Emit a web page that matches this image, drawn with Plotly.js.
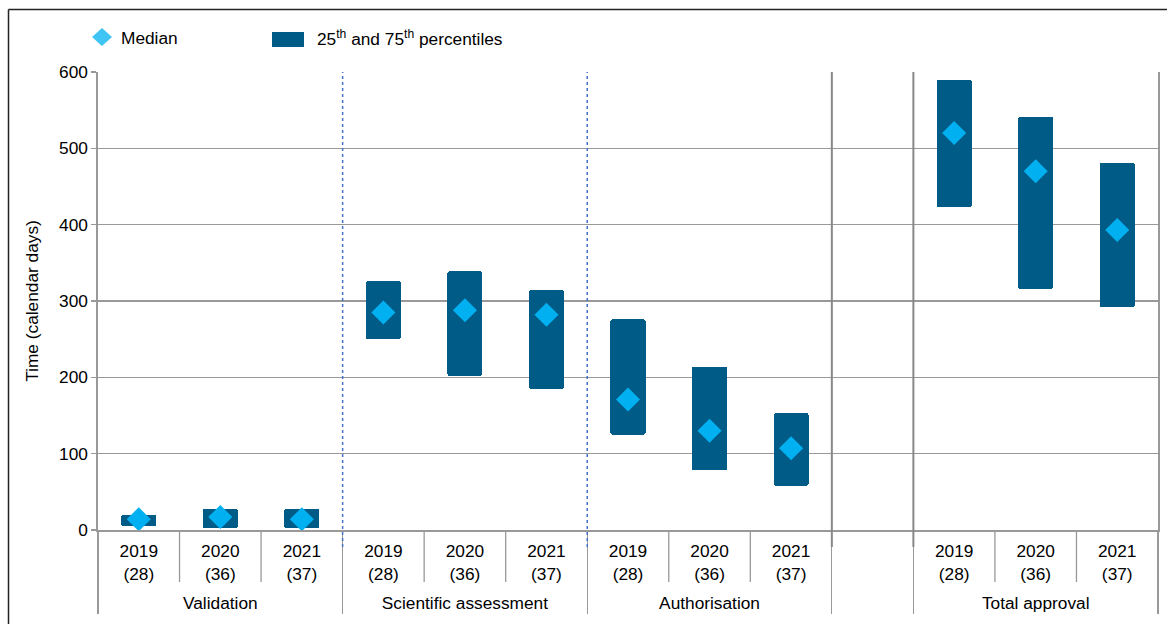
<!DOCTYPE html>
<html><head><meta charset="utf-8">
<script src="https://cdn.plot.ly/plotly-3.0.1.min.js"></script>
<style>html,body{margin:0;padding:0;background:#fff}#chart{width:1167px;height:624px}</style>
</head><body><div id="chart"></div>
<script>
// ---- data ----
const phases = ['Validation','Validation','Validation',
  'Scientific assessment','Scientific assessment','Scientific assessment',
  'Authorisation','Authorisation','Authorisation',
  ' ',
  'Total approval','Total approval','Total approval'];
const years = ['2019','2020','2021','2019','2020','2021','2019','2020','2021',' ','2019','2020','2021'];
const counts = ['(28)','(36)','(37)','(28)','(36)','(37)','(28)','(36)','(37)',' ','(28)','(36)','(37)'];
const p25 =    [5,   2,    2,    250, 202, 185, 125, 78,  58,  null, 423, 316, 292];
const p75 =    [20,  27.5, 27.5, 326, 339, 314, 276, 214, 153, null, 590, 541, 481];
const median = [14,  17,   14,   285, 288, 282, 171, 130, 107, null, 520, 470, 393];

// ---- style ----
const FONT = 'Liberation Sans, Arial, sans-serif';
const FS = 17.3;
const BAR = '#005b86';
const DIAM = '#00b0f0';
const GRID = '#999999';

const W = 1167, H = 624;
const M = {l: 98, r: 9, t: 72, b: 94};
const PW = W - M.l - M.r, PH = H - M.t - M.b;
const px = x => (x - M.l) / PW;          // pixel -> paper x
const py = y => (H - M.b - y) / PH;      // pixel -> paper y

// invisible tall spacer on the first line: only enlarges the label box so the phase row sits lower
const pad = '<span style="font-size:30.6px">\u00A0</span>';
const yearLabels = years.map((y, i) => y === ' ' ? ' ' : pad + y + pad + '<br>' + counts[i]);

const nCat = phases.length;
const span = p75.map((v, i) => (v === null ? null : v - p25[i]));

const traces = [
  {
    type: 'bar', x: [phases, yearLabels], y: span, base: p25,
    width: 0.43, marker: {color: BAR, line: {width: 0}, cornerradius: 2},
    showlegend: false, hoverinfo: 'skip'
  },
  {
    type: 'scatter', mode: 'markers', x: [phases, yearLabels], y: median,
    marker: {symbol: 'diamond', size: 18.5, color: DIAM, line: {width: 0}},
    showlegend: false, hoverinfo: 'skip', cliponaxis: false
  }
];

const vLine = (i, color, dash, width) => ({
  type: 'line', xref: 'paper', yref: 'paper',
  x0: i / nCat, x1: i / nCat, y0: py(547), y1: 1,
  line: {color: color, dash: dash, width: width}
});

const shapes = [
  vLine(3, '#4472c4', 'dot', 1.5),
  vLine(6, '#4472c4', 'dot', 1.5),
  vLine(9, '#888888', 'solid', 2),
  vLine(10, '#888888', 'solid', 2),
  // outer frame (top + left)
  {type: 'line', xref: 'paper', yref: 'paper', x0: px(8.5), x1: px(1170), y0: py(9.5), y1: py(9.5),
   line: {color: '#222', width: 1.5}},
  {type: 'line', xref: 'paper', yref: 'paper', x0: px(8.5), x1: px(8.5), y0: py(9.5), y1: py(630),
   line: {color: '#222', width: 1.5}},
  // legend symbols
  {type: 'path', xref: 'paper', yref: 'paper',
   path: `M ${px(92)} ${py(37)} L ${px(102)} ${py(28)} L ${px(112)} ${py(37)} L ${px(102)} ${py(46)} Z`,
   fillcolor: '#3fc4f4', line: {width: 0}},
  {type: 'rect', xref: 'paper', yref: 'paper', x0: px(272), x1: px(304), y0: py(47), y1: py(32),
   fillcolor: BAR, line: {width: 0}}
];
// short tick marks between years inside each phase
[1, 2, 4, 5, 7, 8, 11, 12].forEach(i => shapes.push({
  type: 'line', xref: 'paper', yref: 'paper',
  x0: i / nCat, x1: i / nCat, y0: py(530), y1: py(582),
  line: {color: GRID, width: 1.3}
}));

const annotations = [
  {xref: 'paper', yref: 'paper', x: px(119), y: py(38), xanchor: 'left', yanchor: 'middle',
   text: 'Median', showarrow: false, font: {family: FONT, size: FS, color: '#000'}},
  {xref: 'paper', yref: 'paper', x: px(315), y: py(38), xanchor: 'left', yanchor: 'middle',
   text: '25<sup>th</sup> and 75<sup>th</sup> percentiles', showarrow: false,
   font: {family: FONT, size: FS, color: '#000'}}
];

const layout = {
  width: W, height: H, margin: M,
  paper_bgcolor: '#fff', plot_bgcolor: '#fff',
  font: {family: FONT, size: FS, color: '#000'},
  showlegend: false,
  xaxis: {
    type: 'multicategory', range: [-0.5, nCat - 0.5], autorange: false, showgrid: false,
    showline: true, linecolor: GRID, linewidth: 1.6,
    ticks: '', tickson: 'boundaries',
    ticklabelstandoff: 5,
    showdividers: true, dividercolor: GRID, dividerwidth: 1.3,
    tickfont: {family: FONT, size: FS, color: '#000'}
  },
  yaxis: {
    range: [0, 600], dtick: 100, showgrid: true, gridcolor: GRID, gridwidth: 1.6,
    zeroline: false, showline: true, linecolor: GRID, linewidth: 1.6, mirror: true,
    ticks: 'outside', ticklen: 5, tickcolor: GRID, tickwidth: 1.3,
    tickfont: {family: FONT, size: FS, color: '#000'},
    title: {text: 'Time (calendar days)', font: {family: FONT, size: FS, color: '#000'}, standoff: 16}
  },
  shapes: shapes,
  annotations: annotations,
  bargap: 0
};

Plotly.newPlot('chart', traces, layout, {displayModeBar: false, staticPlot: true});
</script>
</body></html>
